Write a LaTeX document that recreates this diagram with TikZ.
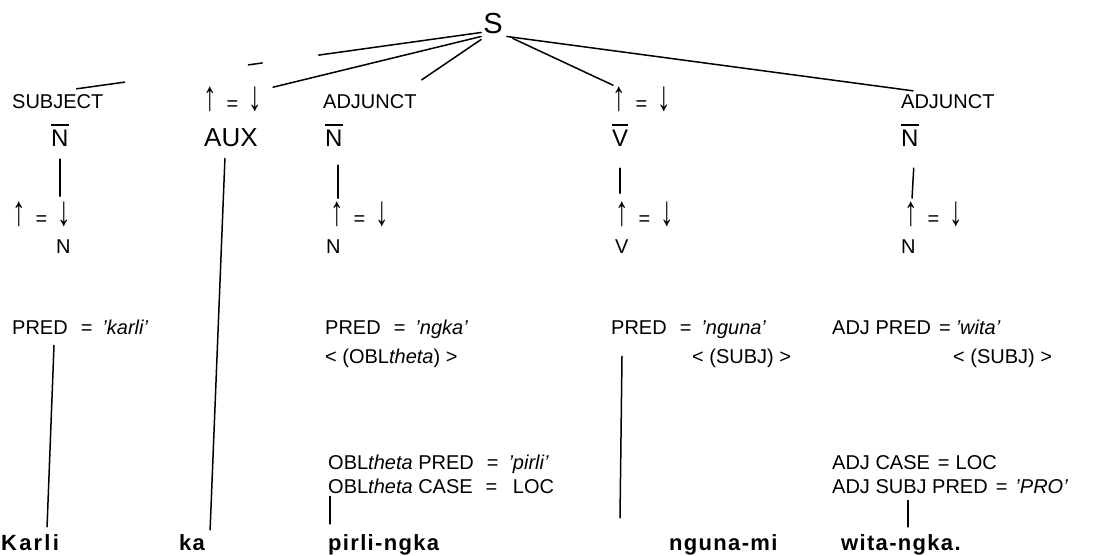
\documentclass[tikz,border=0pt]{standalone}
\usepackage{fontspec}
\setmainfont{Liberation Sans}
\newfontfamily\wordfont[LetterSpace=6]{Liberation Sans}
\newfontfamily\widewordfont[LetterSpace=10]{Liberation Sans}
\newcommand\uarr{\scalebox{1.35}[2.1]{↑}}
\newcommand\darr{\scalebox{1.35}[2.1]{↓}}
\newcommand\ueqd{\uarr\hspace{10pt}=\hspace{10pt}\darr}
\newcommand\Eq{\hspace{13pt}=\hspace{10pt}}
\newcommand\ovl[1]{\vbox{\hrule height 2.2pt\kern 4.5pt\hbox{#1}}}
\tikzset{
  lab/.style={anchor=base west, inner sep=0pt, font=\fontsize{20}{24}\selectfont},
  cat/.style={anchor=base west, inner sep=0pt, font=\fontsize{24}{28}\selectfont},
  word/.style={anchor=base west, inner sep=0pt, font=\wordfont\bfseries\fontsize{22}{26}\selectfont},
  conn/.style={line width=1.5pt, line cap=round},
}
\begin{document}
\begin{tikzpicture}[x=1pt,y=-1pt]
\useasboundingbox (0,0) rectangle (1099,556);
\fill[white] (0,0) rectangle (1099,556);
% root
\node[font=\fontsize{29}{32}\selectfont, inner sep=2pt, anchor=base] (S) at (493,34) {S};
% column 1
\node[lab] (subj) at (12,109) {SUBJECT};
\node[cat] (nb1) at (51,147) {\ovl{N}};
\node[lab] (ud1) at (12,225) {\ueqd};
\node[lab] (n1) at (56,253) {N};
\node[lab] (pred1) at (12,334) {PRED\Eq\textit{'karli'}};
\node[word, font=\widewordfont\bfseries\fontsize{22}{26}\selectfont] (karli) at (1,550) {Karli};
% column 2
\node[lab] (ud2) at (203,111) {\ueqd};
\node[cat, font=\fontsize{26}{30}\selectfont] (aux) at (204,147) {AUX};
\node[word] (ka) at (179,550) {ka};
% column 3
\node[lab] (adj3) at (323,109) {ADJUNCT};
\node[cat] (nb3) at (325,147) {\ovl{N}};
\node[lab] (ud3) at (330,225) {\ueqd};
\node[lab] (n3) at (326,253) {N};
\node[lab] (pred3) at (325,334) {PRED\Eq\textit{'ngka'}};
\node[lab] (obl3) at (325,363) {<\ (OBL\textit{theta})\ >};
\node[lab] (oblp3) at (328,469) {OBL\textit{theta} PRED\Eq\textit{'pirli'}};
\node[lab] (oblc3) at (328,493) {OBL\textit{theta} CASE\Eq\ LOC};
\node[word] (pirli) at (328,550) {pirli-ngka};
% column 4
\node[lab] (ud4a) at (612,111) {\ueqd};
\node[cat] (vb) at (612,147) {\ovl{V}};
\node[lab] (ud4) at (615,225) {\ueqd};
\node[lab] (v4) at (615,253) {V};
\node[lab] (pred4) at (611,334) {PRED\Eq\textit{'nguna'}};
\node[lab] (sub4) at (692,363) {<\ (SUBJ)\ >};
\node[word] (nguna) at (669,550) {nguna-mi};
% column 5
\node[lab] (adj5) at (901,109) {ADJUNCT};
\node[cat] (nb5) at (901,147) {\ovl{N}};
\node[lab] (ud5) at (904,225) {\ueqd};
\node[lab] (n5) at (901,253) {N};
\node[lab] (pred5) at (832,334) {ADJ PRED\hspace{8pt}=\hspace{5pt}\textit{'wita'}};
\node[lab] (sub5) at (953,363) {<\ (SUBJ)\ >};
\node[lab] (adjc5) at (832,469) {ADJ CASE\hspace{8pt}=\hspace{6pt}LOC};
\node[lab] (adjs5) at (832,493) {ADJ SUBJ PRED\hspace{8pt}=\hspace{8pt}\textit{'PRO'}};
\node[word] (wita) at (841,550) {wita-ngka.};
% connectors from S
\draw[conn, dash pattern=on 164pt off 57pt on 14pt off 125pt on 60pt] ([yshift=4pt]S.south west) -- ([xshift=-27pt,yshift=6pt]subj.north east);
\draw[conn] (S.south west) -- ([xshift=11pt]ud2.north east);
\draw[conn] ([yshift=-3pt]S.south west) -- ([xshift=5pt,yshift=15pt]adj3.north east);
\draw[conn] ([xshift=8pt,yshift=-2pt]S.south east) -- ([xshift=1pt,yshift=2pt]ud4a.north west);
\draw[conn] ([xshift=2pt]S.south east) -- ([xshift=12pt,yshift=4pt]adj5.north west);
% vertical connectors
\draw[conn, shorten <=12pt, shorten >=5pt] (nb1.south) -- (nb1.south |- ud1.north);
\draw[conn, shorten <=18pt, shorten >=3pt] ([xshift=4pt]nb3.south) -- ([xshift=4pt]nb3.south |- ud3.north);
\draw[conn, shorten <=21pt, shorten >=8pt] (vb.south) -- (vb.south |- ud4.north);
\draw[conn, shorten <=21pt, shorten >=3pt] ([xshift=5pt]nb5.south) -- ([xshift=2pt]nb5.south |- ud5.north);
\draw[conn] ([xshift=-6pt,yshift=-11pt]aux.south) -- ([xshift=18pt,yshift=4pt]ka.north);
\draw[conn] ([xshift=42pt,yshift=-11pt]pred1.south west) -- ([xshift=17pt,yshift=7pt]karli.north);
\draw[conn] ([xshift=2pt,yshift=-3pt]oblc3.south west) -- ([xshift=2pt,yshift=10pt]pirli.north west);
\draw[conn] ([xshift=11pt,yshift=-18pt]pred4.south west) -- ([xshift=-49pt,yshift=16pt]nguna.north west);
\draw[conn] ([xshift=76pt,yshift=-7pt]adjs5.south west) -- ([xshift=67pt,yshift=7pt]wita.north west);
\end{tikzpicture}
\end{document}
